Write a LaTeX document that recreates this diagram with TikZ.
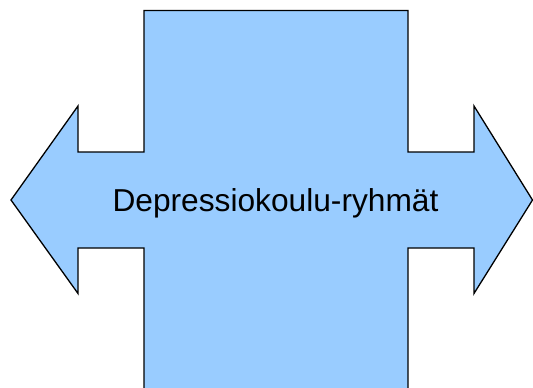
\documentclass[tikz,border=0pt]{standalone}
\usepackage{fontspec}
\setmainfont{Liberation Sans}
\definecolor{crossblue}{HTML}{99CCFF}
\begin{document}
\begin{tikzpicture}[x=1pt,y=-1pt,
  crossshape/.style={fill=crossblue,draw=black,line width=1.3pt,line join=miter},
  labeltext/.style={font=\fontsize{31.7}{37}\selectfont,text=black,inner sep=0pt}]
  \useasboundingbox (0,0) rectangle (533,388);
  \begin{scope}
    \clip (0,0) rectangle (533,388);
    % double-headed arrow crossing a tall bar that runs off the bottom
    \path[crossshape]
      (144,10.5) -- (408,10.5) -- (408,152) -- (474,152) -- (474,106)
      -- (532.5,200) -- (474,293.5) -- (474,248) -- (408,248) -- (408,400)
      -- (144,400) -- (144,248) -- (78,248) -- (78,293.5) -- (11,200)
      -- (78,106) -- (78,152) -- (144,152) -- cycle;
  \end{scope}
  \node[labeltext,anchor=base] (label) at (275.5,211) {Depressiokoulu-ryhmät};
\end{tikzpicture}
\end{document}
